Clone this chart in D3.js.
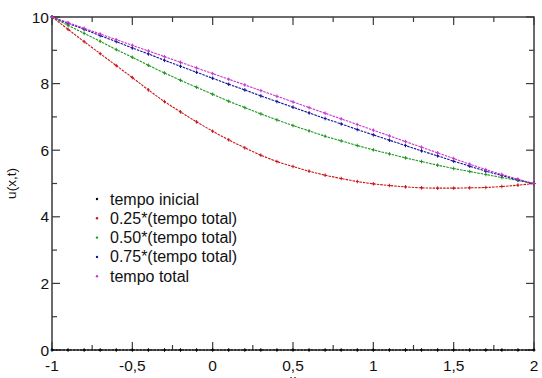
<!DOCTYPE html>
<html>
<head>
<meta charset="utf-8">
<script src="https://cdn.jsdelivr.net/npm/d3@7"></script>
<style>
  body { margin: 0; background: #fff; }
  svg { display: block; font-family: "Liberation Sans", Arial, sans-serif; }
</style>
</head>
<body>
<div id="chart"></div>
<script>
// sample positions along x
const xs = [-1, -0.9, -0.8, -0.7, -0.6, -0.5, -0.4, -0.3, -0.2, -0.1, 0,
            0.1, 0.2, 0.3, 0.4, 0.5, 0.6, 0.7, 0.8, 0.9, 1,
            1.1, 1.2, 1.3, 1.4, 1.5, 1.6, 1.7, 1.8, 1.9, 2];

const uInicial = [0, 0, 0, 0, 0, 0, 0, 0, 0, 0, 0,
                  0, 0, 0, 0, 0, 0, 0, 0, 0, 0,
                  0, 0, 0, 0, 0, 0, 0, 0, 0, 0];
const u025 = [10, 9.63, 9.26, 8.90, 8.54, 8.18, 7.81, 7.46, 7.15, 6.85, 6.57,
              6.31, 6.07, 5.85, 5.66, 5.51, 5.37, 5.25, 5.15, 5.06, 4.99,
              4.94, 4.90, 4.87, 4.86, 4.86, 4.87, 4.88, 4.91, 4.95, 5];
const u050 = [10, 9.75, 9.51, 9.27, 9.02, 8.79, 8.55, 8.32, 8.10, 7.89, 7.68,
              7.47, 7.28, 7.09, 6.91, 6.74, 6.58, 6.42, 6.28, 6.14, 6.01,
              5.89, 5.77, 5.66, 5.55, 5.45, 5.36, 5.27, 5.18, 5.09, 5];
const u075 = [10, 9.81, 9.63, 9.44, 9.26, 9.07, 8.89, 8.70, 8.52, 8.34, 8.16,
              7.98, 7.81, 7.63, 7.46, 7.29, 7.12, 6.95, 6.79, 6.62, 6.46,
              6.30, 6.14, 5.98, 5.83, 5.67, 5.52, 5.37, 5.24, 5.11, 5];
const uTotal = [10, 9.83, 9.66, 9.49, 9.32, 9.15, 8.98, 8.81, 8.64, 8.47, 8.30,
                8.13, 7.96, 7.79, 7.62, 7.45, 7.28, 7.11, 6.94, 6.77, 6.60,
                6.43, 6.26, 6.09, 5.92, 5.75, 5.58, 5.42, 5.27, 5.13, 5];

const seriesNames = ['tempo inicial', '0.25*(tempo total)', '0.50*(tempo total)',
                     '0.75*(tempo total)', 'tempo total'];
const seriesColors = ['#000000', '#c81414', '#1e961e', '#10109a', '#cc33cc'];
const seriesValues = [uInicial, u025, u050, u075, uTotal];

const xTicks = [-1, -0.5, 0, 0.5, 1, 1.5, 2];
const yTicks = [0, 2, 4, 6, 8, 10];

const width = 542, height = 378;
const margin = { top: 17, right: 8, bottom: 28, left: 52 };

const svg = d3.select('#chart').append('svg')
    .attr('width', width)
    .attr('height', height);

const x = d3.scaleLinear().domain([-1, 2]).range([margin.left, width - margin.right]);
const y = d3.scaleLinear().domain([0, 10]).range([height - margin.bottom, margin.top]);

// comma as decimal mark, plain hyphen for minus
const fmt = d => String(d).replace('.', ',');
const axisColor = '#3a3a3a';

// frame
svg.append('rect')
    .attr('x', x(-1)).attr('y', y(10))
    .attr('width', x(2) - x(-1)).attr('height', y(0) - y(10))
    .attr('fill', 'none').attr('stroke', axisColor).attr('stroke-width', 1.5);

// ticks drawn inward on all four sides
const xMinor = d3.range(-1, 2.001, 0.25);
const yMinor = d3.range(0, 10.001, 1);
const tickG = svg.append('g').attr('stroke', axisColor).attr('stroke-width', 1.2);

xMinor.forEach(v => {
    const major = xTicks.some(t => Math.abs(t - v) < 1e-6);
    const len = major ? 8 : 5;
    tickG.append('line').attr('x1', x(v)).attr('x2', x(v)).attr('y1', y(0)).attr('y2', y(0) - len);
    tickG.append('line').attr('x1', x(v)).attr('x2', x(v)).attr('y1', y(10)).attr('y2', y(10) + len);
});
yMinor.forEach(v => {
    const major = yTicks.indexOf(Math.round(v)) >= 0;
    const len = major ? 8 : 5;
    tickG.append('line').attr('y1', y(v)).attr('y2', y(v)).attr('x1', x(-1)).attr('x2', x(-1) + len);
    tickG.append('line').attr('y1', y(v)).attr('y2', y(v)).attr('x1', x(2)).attr('x2', x(2) - len);
});

// tick labels
svg.append('g').selectAll('text').data(xTicks).join('text')
    .attr('x', d => x(d))
    .attr('y', y(0) + 21)
    .attr('text-anchor', 'middle')
    .attr('font-size', 15.5)
    .attr('fill', '#111')
    .text(d => fmt(d));

svg.append('g').selectAll('text').data(yTicks).join('text')
    .attr('x', x(-1) - 3)
    .attr('y', d => y(d) + 5.5)
    .attr('text-anchor', 'end')
    .attr('font-size', 15.5)
    .attr('fill', '#111')
    .text(d => fmt(d));

// axis titles (the x title sits mostly below the picture edge, as in the original)
svg.append('text')
    .attr('x', (x(-1) + x(2)) / 2)
    .attr('y', height + 6)
    .attr('text-anchor', 'middle')
    .attr('font-size', 13)
    .attr('fill', '#111')
    .text('x');

svg.append('text')
    .attr('transform', 'translate(16,' + (height - margin.bottom + margin.top) / 2 + ') rotate(-90)')
    .attr('text-anchor', 'middle')
    .attr('font-size', 13.5)
    .attr('fill', '#111')
    .text('u(x,t)');

// series
const line = d3.line()
    .x((d, i) => x(xs[i]))
    .y(d => y(d))
    .curve(d3.curveMonotoneX);

seriesValues.forEach((vals, s) => {
    const g = svg.append('g');
    g.append('path')
        .attr('d', line(vals))
        .attr('fill', 'none')
        .attr('stroke', seriesColors[s])
        .attr('stroke-width', 1.1)
        .attr('stroke-dasharray', '2.5,1');
    g.selectAll('path.mk').data(vals).join('path')
        .attr('class', 'mk')
        .attr('d', (d, i) => {
            const px = x(xs[i]), py = y(d);
            return `M${px - 1.5},${py}H${px + 1.5}M${px},${py - 1.8}V${py + 1.8}`;
        })
        .attr('stroke', seriesColors[s])
        .attr('stroke-width', 1);
});

// legend
const legend = svg.append('g').attr('transform', 'translate(97,199)');
seriesNames.forEach((name, i) => {
    legend.append('circle')
        .attr('cx', 0).attr('cy', i * 19.3)
        .attr('r', 1.2)
        .attr('fill', seriesColors[i]);
    legend.append('text')
        .attr('x', 13)
        .attr('y', i * 19.3 + 5.5)
        .attr('font-size', 16)
        .attr('fill', '#111')
        .text(name);
});
</script>
</body>
</html>
